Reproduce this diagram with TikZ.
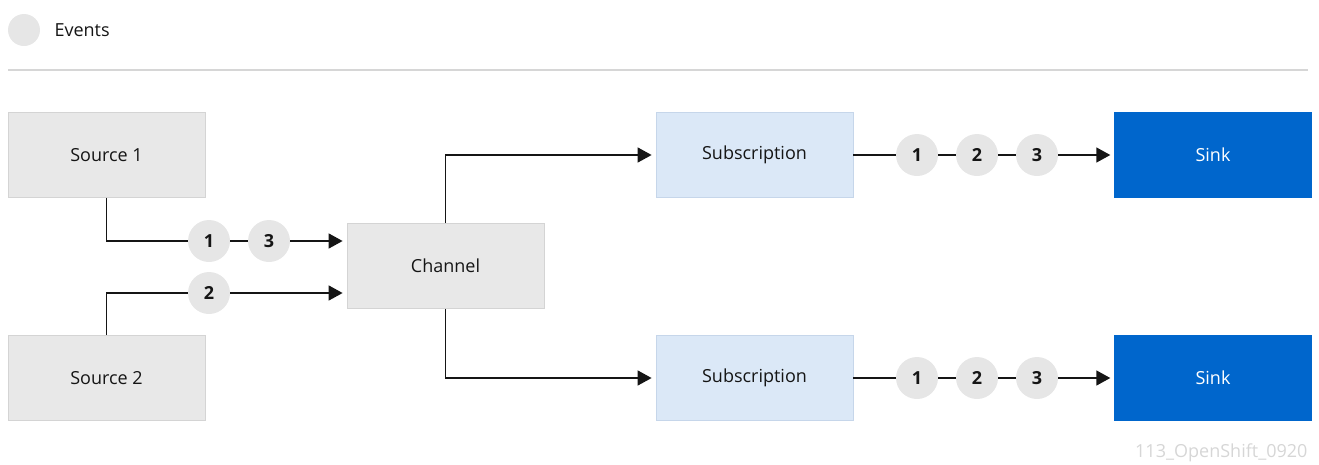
\documentclass[tikz,border=0pt]{standalone}
\usepackage{fontspec}
\setmainfont{Open Sans}
\usetikzlibrary{arrows.meta}
\definecolor{boxgray}{HTML}{E8E8E8}
\definecolor{boxedge}{HTML}{D4D4D4}
\definecolor{subblue}{HTML}{DBE8F7}
\definecolor{subedge}{HTML}{C6D6EA}
\definecolor{sinkblue}{HTML}{0066CC}
\definecolor{evgray}{HTML}{E6E6E6}
\definecolor{linegray}{HTML}{D6D6D6}
\definecolor{txt}{HTML}{151515}
\tikzset{
  box/.style={rectangle, minimum width=197pt, minimum height=85pt, inner sep=0pt,
    font=\fontsize{18}{21}\selectfont, text=txt},
  srcbox/.style={box, fill=boxgray, draw=boxedge, line width=0.8pt},
  subbox/.style={box, fill=subblue, draw=subedge, line width=0.8pt},
  sinkbox/.style={box, fill=sinkblue, draw=sinkblue, text=white},
  ev/.style={circle, fill=evgray, minimum size=42pt, inner sep=0pt,
    font=\fontsize{18}{21}\selectfont\bfseries, text=txt},
  conn/.style={line width=1.5pt, draw=txt},
  arr/.style={conn, shorten >=4pt, -{Triangle[length=14pt,width=15pt]}},
}
\begin{document}
\begin{tikzpicture}[x=1pt,y=-1pt]
\useasboundingbox (0,0) rectangle (1319,464);
% legend
\node[circle, fill=evgray, minimum size=32pt, inner sep=0pt] (legc) at (24,30) {};
\node[anchor=west, font=\fontsize{18}{21}\selectfont, text=txt] (legt) at (51,30) {Events};
\coordinate (hl) at (8,70);
\coordinate (hr) at (1308,70);
\draw[linegray, line width=1.5pt] (hl) -- (hr);
% boxes
\node[srcbox] (s1) at (106.5,155) {Source 1};
\node[srcbox] (s2) at (106.5,378) {Source 2};
\node[srcbox] (ch) at (445.5,266) {Channel};
\node[subbox] (sub1) at (754.5,155) {Subscription};
\node[subbox] (sub2) at (754.5,378) {Subscription};
\node[sinkbox] (k1) at (1213,155) {Sink};
\node[sinkbox] (k2) at (1213,378) {Sink};
% events
\node[ev] (a1) at (209,241) {1};
\node[ev] (a3) at (269,241) {3};
\node[ev] (b2) at (209,293) {2};
\node[ev] (c1) at (917,155) {1};
\node[ev] (c2) at (977,155) {2};
\node[ev] (c3) at (1037,155) {3};
\node[ev] (d1) at (917,378) {1};
\node[ev] (d2) at (977,378) {2};
\node[ev] (d3) at (1037,378) {3};
% connectors
\draw[conn] (s1.south) |- (a1.west);
\draw[conn] (a1) -- (a3);
\draw[arr] (a3.east) -- (ch.west |- a3);
\draw[conn] (s2.north) |- (b2.west);
\draw[arr] (b2.east) -- (ch.west |- b2);
\draw[arr] (ch.north) |- (sub1.west);
\draw[arr] (ch.south) |- (sub2.west);
\draw[conn] (sub1.east) -- (c1);
\draw[conn] (c1) -- (c2);
\draw[conn] (c2) -- (c3);
\draw[arr] (c3.east) -- (k1.west);
\draw[conn] (sub2.east) -- (d1);
\draw[conn] (d1) -- (d2);
\draw[conn] (d2) -- (d3);
\draw[arr] (d3.east) -- (k2.west);
% watermark
\node[anchor=east, font=\fontsize{18}{21}\selectfont, text=black!16] (wm) at (1311,453) {113\_OpenShift\_0920};
\end{tikzpicture}
\end{document}
